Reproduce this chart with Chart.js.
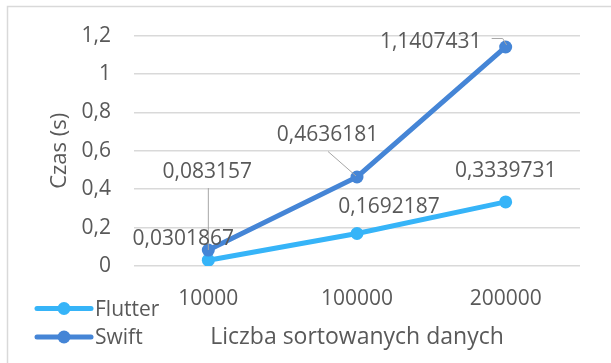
<!DOCTYPE html>
<html>
<head>
<meta charset="utf-8">
<script src="https://cdn.jsdelivr.net/npm/chart.js@4.4.1/dist/chart.umd.min.js"></script>
<style>
  body { margin: 0; background: #fff; }
  canvas { display: block; }
</style>
</head>
<body>
<canvas id="czas" width="611" height="363"></canvas>
<script>
const categories = ["10000", "100000", "200000"];
const flutterTimes = [0.0301867, 0.1692187, 0.3339731];
const swiftTimes = [0.083157, 0.4636181, 1.1407431];
const seriesNames = ["Flutter", "Swift"];
const yMin = 0;
const yMax = 1.2;
const yStep = 0.2;

const FONT = "'Open Sans', sans-serif";
const TEXT = "#595959";
const colors = ["#36b4f8", "#4585d6"];

// where each value label sits, relative to its point (px)
const labelOffsets = [
  [[-25, -23], [32, -28], [0, -32]],
  [[-1, -80], [-29.5, -43.5], [-75, -6.5]],
];
// leader lines, relative to the point
const leaders = [
  [null, null, null],
  [
    [[0, -62], [0, 0]],
    [[-29, -25.5], [-1, -1]],
    [[-14, -8.5], [-3, -8.5], [1, -2]],
  ],
];

function fmt(v) {
  return String(v).replace(".", ",");
}

const extras = {
  id: "extras",
  beforeDraw(chart) {
    const c = chart.ctx;
    c.save();
    c.strokeStyle = "#d9d9d9";
    c.lineWidth = 1.5;
    c.beginPath();
    c.moveTo(7.5, 363);
    c.lineTo(7.5, 6.5);
    c.lineTo(611, 6.5);
    c.stroke();
    c.restore();
  },
  afterDatasetsDraw(chart) {
    const c = chart.ctx;
    c.save();
    // leader lines
    c.strokeStyle = "#a6a6a6";
    c.lineWidth = 1;
    chart.data.datasets.forEach((ds, i) => {
      const meta = chart.getDatasetMeta(i);
      meta.data.forEach((pt, j) => {
        const l = leaders[i][j];
        if (!l) return;
        c.beginPath();
        l.forEach(([dx, dy], k) => {
          if (k === 0) c.moveTo(pt.x + dx, pt.y + dy);
          else c.lineTo(pt.x + dx, pt.y + dy);
        });
        c.stroke();
      });
    });
    // value labels
    c.fillStyle = TEXT;
    c.font = "21px " + FONT;
    c.textAlign = "center";
    c.textBaseline = "middle";
    chart.data.datasets.forEach((ds, i) => {
      const meta = chart.getDatasetMeta(i);
      meta.data.forEach((pt, j) => {
        const [dx, dy] = labelOffsets[i][j];
        c.fillText(fmt(ds.data[j]), pt.x + dx, pt.y + dy + 1.5);
      });
    });
    c.restore();
  },
  afterDraw(chart) {
    // legend, bottom left
    const c = chart.ctx;
    const rows = [308.5, 337];
    c.save();
    chart.data.datasets.forEach((ds, i) => {
      const y = rows[i];
      c.strokeStyle = ds.borderColor;
      c.lineWidth = 5;
      c.lineCap = "round";
      c.beginPath();
      c.moveTo(37, y);
      c.lineTo(91, y);
      c.stroke();
      c.fillStyle = ds.borderColor;
      c.beginPath();
      c.arc(64, y, 6.5, 0, Math.PI * 2);
      c.fill();
      c.fillStyle = TEXT;
      c.font = "21px " + FONT;
      c.textAlign = "left";
      c.textBaseline = "middle";
      c.fillText(ds.label, 95, y + 1.5);
    });
    c.restore();
  },
};

const czasChart = new Chart(document.getElementById("czas"), {
  type: "line",
  data: {
    labels: categories,
    datasets: [
      {
        label: seriesNames[0],
        data: flutterTimes,
        borderColor: colors[0],
        backgroundColor: colors[0],
        borderWidth: 5,
        pointRadius: 6.5,
        pointBorderWidth: 0,
        pointBackgroundColor: colors[0],
        borderCapStyle: "round",
        order: 1,
      },
      {
        label: seriesNames[1],
        data: swiftTimes,
        borderColor: colors[1],
        backgroundColor: colors[1],
        borderWidth: 5,
        pointRadius: 6.5,
        pointBorderWidth: 0,
        pointBackgroundColor: colors[1],
        borderCapStyle: "round",
        order: 0,
      },
    ],
  },
  options: {
    responsive: false,
    animation: false,
    layout: { padding: { top: 34, right: 31, left: 0, bottom: 0 } },
    plugins: {
      legend: { display: false },
      tooltip: { enabled: false },
    },
    scales: {
      x: {
        offset: true,
        grid: { display: false, drawTicks: false },
        border: { display: false },
        ticks: {
          color: TEXT,
          font: { family: FONT, size: 21 },
          padding: 20,
          maxRotation: 0,
        },
        title: {
          display: true,
          text: "Liczba sortowanych danych",
          color: TEXT,
          font: { family: FONT, size: 23 },
          padding: { top: 0, bottom: 12 },
        },
        afterFit(scale) {
          scale.height = 97;
        },
      },
      y: {
        min: yMin,
        max: yMax,
        grid: { color: "#d9d9d9", lineWidth: 1.5, drawTicks: false },
        border: { display: false },
        ticks: {
          stepSize: yStep,
          color: TEXT,
          font: { family: FONT, size: 21 },
          padding: 23,
          callback: (v) => fmt(Number(v.toFixed(1))),
        },
        title: {
          display: true,
          text: "Czas (s)",
          color: TEXT,
          font: { family: FONT, size: 22 },
          padding: { top: 47, bottom: 0 },
        },
        afterFit(scale) {
          scale.width = 134;
        },
      },
    },
  },
  plugins: [extras],
});
</script>
</body>
</html>
